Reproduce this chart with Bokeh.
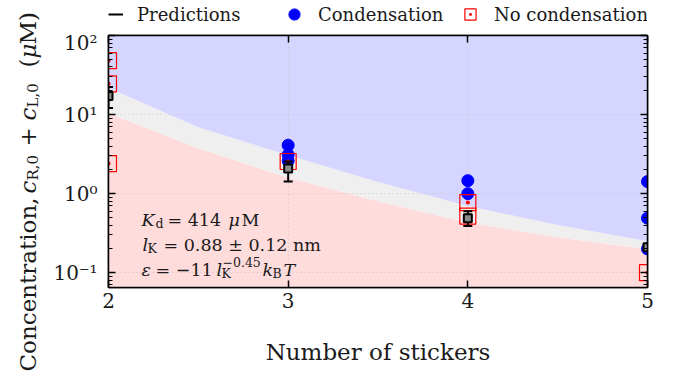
from math import pi
from bokeh.plotting import figure
from bokeh.layouts import row, column
from bokeh.models import (Label, Legend, LegendItem, FixedTicker,
                          LinearAxis, LogAxis, Range1d, CustomJSTickFormatter)
from bokeh.embed import file_html
from bokeh.resources import INLINE

# ---------------- data ----------------
stickers = [2, 3, 4, 5]
pred = [17.2, 2.08, 0.49, 0.21]
pred_lo = [12.1, 1.42, 0.39, 0.195]
pred_hi = [22.4, 2.55, 0.60, 0.225]

cond_x = [3, 3, 3, 4, 4, 5, 5, 5]
cond_y = [4.1, 3.1, 2.6, 1.46, 1.0, 1.42, 0.49, 0.20]

nocond_x = [2, 2, 2, 3, 4, 4, 5]
nocond_y = [48, 24.5, 2.4, 2.55, 0.77, 0.52, 0.10]

band_x = [2, 2.5, 3, 3.5, 4, 4.5, 5]
band_upper = [21.7, 6.9, 3.05, 1.40, 0.70, 0.40, 0.25]
band_lower = [10.4, 3.74, 1.6, 0.80, 0.43, 0.28, 0.20]

x_ticks = [2, 3, 4, 5]
y_ticks = [0.1, 1, 10, 100]
y_tick_labels = ["10⁻¹", "10⁰", "10¹", "10²"]
y_minor = [0.07, 0.08, 0.09] + [m * d for d in (0.1, 1, 10) for m in range(2, 10)]

legend_labels = ["Predictions", "Condensation", "No condensation"]

YMIN, YMAX = 0.065, 100
FONT = "DejaVu Serif"
TXT = "#1a1a1a"

# page geometry (page px): layout origin, frame edges
OX, OY = 1, 1
LABW = 50          # width of the y-label strip
HEADH = 30         # height of the legend strip
FL, FT, FR, FB = 108, 36, 648, 288
PW = (FL - OX - LABW) + (FR - FL) + 17
TOTAL_H = 373

# ---------------- main plot ----------------
p = figure(width=PW, height=TOTAL_H - HEADH, x_range=Range1d(2, 5), y_range=Range1d(YMIN, YMAX),
           y_axis_type="log", output_backend="svg", toolbar_location=None,
           min_border_left=FL - OX - LABW, min_border_right=17,
           min_border_top=FT - OY - HEADH, min_border_bottom=TOTAL_H - (FB - OY))
p.background_fill_color = "white"
p.border_fill_color = "white"
p.outline_line_color = "black"
p.outline_line_width = 1.5

p.varea(x=band_x, y1=[0.001] * len(band_x), y2=band_lower, fill_color="#ffdcdc", level="image")
p.varea(x=band_x, y1=band_lower, y2=band_upper, fill_color="#efefef", level="image")
p.varea(x=band_x, y1=band_upper, y2=[1e4] * len(band_x), fill_color="#d5d5ff", level="image")

p.xgrid.ticker = FixedTicker(ticks=x_ticks)
p.ygrid.ticker = FixedTicker(ticks=y_ticks)
for g in (p.xgrid, p.ygrid):
    g.grid_line_color = "#c8c8c8"
    g.grid_line_dash = "1 3"
    g.grid_line_width = 1

COND = dict(marker="circle", size=12, fill_color="#0000ff", line_color="#0000ff")
NOCOND = dict(marker="square_dot", size=16, fill_color=None, line_color="#ff0000", line_width=1.2)
p.scatter(cond_x, cond_y, **COND)
p.scatter(nocond_x, nocond_y, **NOCOND)
p.segment(x0=stickers, y0=pred_lo, x1=stickers, y1=pred_hi, line_color="black", line_width=2)
p.scatter(stickers, pred_lo, marker="dash", size=9, line_color="black", line_width=2)
p.scatter(stickers, pred_hi, marker="dash", size=9, line_color="black", line_width=2)
p.scatter(stickers, pred, marker="square", size=8, fill_color="#8a8a8a", line_color="black", line_width=2)


def style_axis(ax, size="20px"):
    ax.axis_line_color = "black"
    ax.axis_line_width = 1.5
    ax.major_tick_in = 7
    ax.major_tick_out = 0
    ax.minor_tick_in = 4
    ax.minor_tick_out = 0
    ax.major_tick_line_width = 1.5
    ax.minor_tick_line_width = 1.2
    ax.major_label_text_font = FONT
    ax.major_label_text_font_size = size
    ax.major_label_text_color = TXT


xa = p.xaxis[0]
xa.ticker = FixedTicker(ticks=x_ticks, minor_ticks=[])
style_axis(xa)
xa.major_label_standoff = 5
xa.axis_label = "Number of stickers"
xa.axis_label_text_font = FONT
xa.axis_label_text_font_style = "normal"
xa.axis_label_text_font_size = "23px"
xa.axis_label_text_color = TXT
xa.axis_label_standoff = 28

ya = p.yaxis[0]
ya.ticker = FixedTicker(ticks=y_ticks, minor_ticks=y_minor)
ya.major_label_overrides = dict(zip(y_ticks, y_tick_labels))
style_axis(ya)
ya.major_label_standoff = 11

blank = CustomJSTickFormatter(code="return '';")
ra = LogAxis(ticker=FixedTicker(ticks=y_ticks, minor_ticks=y_minor), formatter=blank)
style_axis(ra, "0px")
ra.major_label_standoff = 0
p.add_layout(ra, "right")
ta = LinearAxis(ticker=FixedTicker(ticks=x_ticks, minor_ticks=[]), formatter=blank)
style_axis(ta, "0px")
ta.major_label_standoff = 0
p.add_layout(ta, "above")


def ptxt(s, px, py, size, italic=False):
    p.add_layout(Label(x=px - FL, y=FB - py, x_units="screen", y_units="screen", text=s,
                       text_font=FONT, text_font_size=f"{size}px",
                       text_font_style="italic" if italic else "normal",
                       text_baseline="alphabetic", text_align="left", text_color=TXT))


ptxt("K", 141, 220, 17.5, True)
ptxt("d", 155, 224, 12.5)
ptxt("= 414", 167, 220, 17.5)
ptxt("μ", 228, 220, 17.5, True)
ptxt("M", 241, 220, 17.5)

ptxt("l", 142, 245, 17.5, True)
ptxt("K", 147, 249, 12.5)
ptxt("= 0.88 ± 0.12 nm", 163, 245, 17.5)

ptxt("ε", 141, 270, 17.5, True)
ptxt("= −11", 155, 270, 17.5)
ptxt("l", 216, 270, 17.5, True)
ptxt("K", 221, 274, 12.5)
ptxt("−0.45", 222, 262, 12.5)
ptxt("k", 262, 270, 17.5, True)
ptxt("B", 272, 274, 12.5)
ptxt("T", 283, 270, 17.5, True)

# ---------------- y-label strip ----------------
ylab = figure(width=LABW, height=TOTAL_H, x_range=Range1d(0, LABW), y_range=Range1d(0, TOTAL_H),
              output_backend="svg", toolbar_location=None, min_border=0)
ylab.axis.visible = False
ylab.grid.visible = False
ylab.outline_line_color = None
ylab.background_fill_color = "white"
ylab.border_fill_color = "white"


def ytxt(s, px, py, size, italic=False):
    ylab.add_layout(Label(x=px - OX, y=TOTAL_H - (py - OY), text=s, angle=pi / 2,
                          text_font=FONT, text_font_size=f"{size}px",
                          text_font_style="italic" if italic else "normal",
                          text_baseline="alphabetic", text_align="left", text_color=TXT))


BX = 28
ytxt("Concentration,", BX, 372, 23)
ytxt("c", BX, 194, 23, True)
ytxt("R,0", BX + 5, 181, 15)
ytxt("+", BX, 147, 23)
ytxt("c", BX, 121, 23, True)
ytxt("L,0", BX + 5, 108, 15)
ytxt("(", BX, 68, 23)
ytxt("μ", BX, 59, 23, True)
ytxt("M)", BX, 45, 23)

# ---------------- legend strip ----------------
head = figure(width=PW, height=HEADH, x_range=Range1d(0, PW), y_range=Range1d(0, HEADH),
              output_backend="svg", toolbar_location=None, min_border=0)
head.axis.visible = False
head.grid.visible = False
head.outline_line_color = None
head.background_fill_color = "white"
head.border_fill_color = "white"

r_pred = head.line(x=[-100, -90], y=[-100, -100], line_color="black", line_width=2)
r_cond = head.scatter([-100], [-100], **COND)
r_nocond = head.scatter([-100], [-100], **NOCOND)

# (glyph left edge in page px, glyph width, label standoff)
slots = [(108, 15, 14), (280, 28, 10), (456, 28, 10)]
for lab, rr, (gx, gw, st) in zip(legend_labels, [r_pred, r_cond, r_nocond], slots):
    lg = Legend(items=[LegendItem(label=lab, renderers=[rr])],
                location=(gx - FL, (OY + HEADH) - 29),
                orientation="horizontal", padding=0, margin=0, glyph_width=gw, glyph_height=28,
                label_standoff=st, border_line_alpha=0, background_fill_alpha=0,
                label_text_font=FONT, label_text_font_size="18px", label_text_color=TXT)
    head.add_layout(lg)

layout = row(ylab, column(head, p, spacing=0), spacing=0)

open("out.html", "w").write(file_html(layout, INLINE))
